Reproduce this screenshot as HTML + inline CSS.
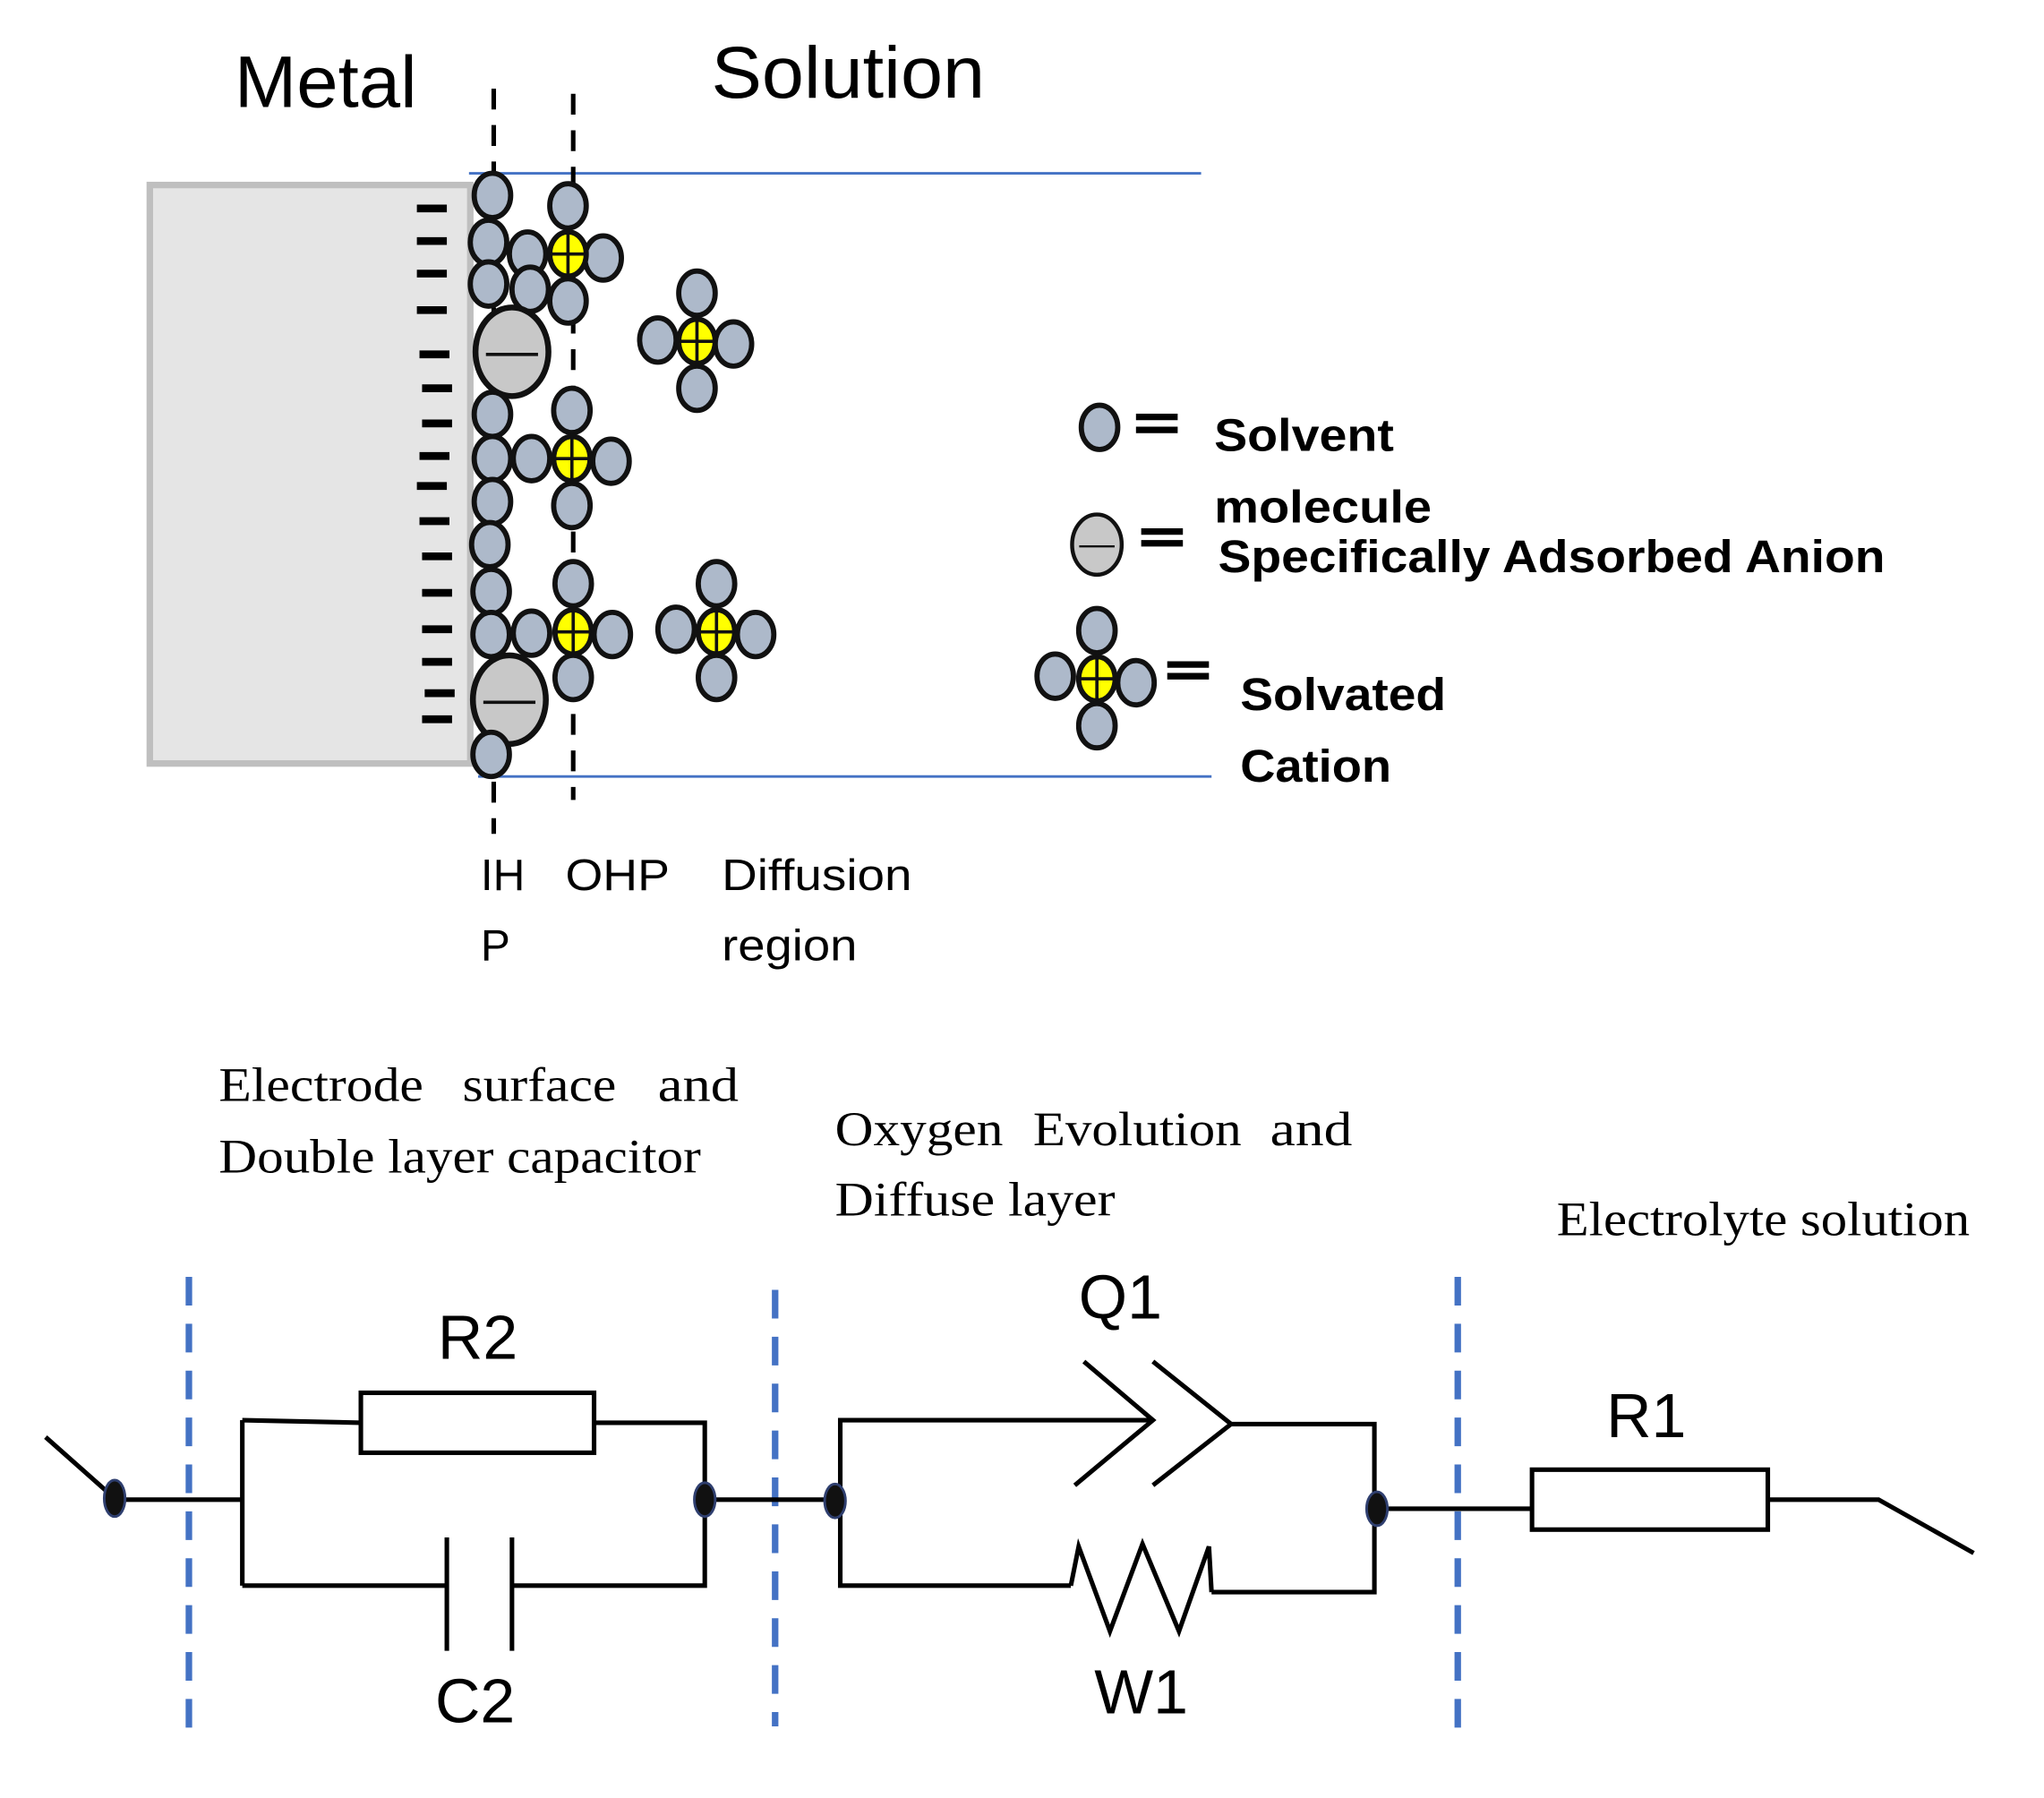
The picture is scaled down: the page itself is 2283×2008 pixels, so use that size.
<!DOCTYPE html>
<html><head><meta charset="utf-8"><style>html,body{margin:0;padding:0;background:#fff}svg{display:block}</style></head>
<body>
<svg width="2283" height="2008" viewBox="0 0 1569 1380" preserveAspectRatio="none" xmlns="http://www.w3.org/2000/svg" font-family="Liberation Sans, sans-serif">
<defs>
<g id="s"><ellipse rx="14" ry="17" fill="#adb9ca" stroke="#111" stroke-width="4"/></g>
<g id="c"><ellipse rx="14" ry="17" fill="#ffff00" stroke="#111" stroke-width="4"/><line x1="-14" y1="0" x2="14" y2="0" stroke="#111" stroke-width="2.5"/><line x1="0" y1="-17" x2="0" y2="17" stroke="#111" stroke-width="2.5"/></g>
<g id="a"><ellipse rx="28" ry="34" fill="#c8c8c8" stroke="#111" stroke-width="4.5"/><line x1="-20" y1="2" x2="20" y2="2" stroke="#111" stroke-width="2.5"/></g>
</defs>
<rect x="115" y="142" width="246" height="444" fill="#e5e5e5" stroke="#bfbfbf" stroke-width="5"/>
<g stroke="#000" stroke-width="6">
<line x1="320" y1="160" x2="343" y2="160"/><line x1="320" y1="185" x2="343" y2="185"/><line x1="320" y1="210" x2="343" y2="210"/><line x1="320" y1="238" x2="343" y2="238"/><line x1="322" y1="272" x2="345" y2="272"/><line x1="324" y1="298" x2="347" y2="298"/><line x1="324" y1="325" x2="347" y2="325"/><line x1="322" y1="350" x2="345" y2="350"/><line x1="320" y1="373" x2="343" y2="373"/><line x1="322" y1="400" x2="345" y2="400"/><line x1="324" y1="427" x2="347" y2="427"/><line x1="324" y1="455" x2="347" y2="455"/><line x1="324" y1="483" x2="347" y2="483"/><line x1="324" y1="508" x2="347" y2="508"/><line x1="326" y1="532" x2="349" y2="532"/><line x1="324" y1="552" x2="347" y2="552"/>
</g>
<line x1="360" y1="133" x2="922" y2="133" stroke="#4472c4" stroke-width="2"/>
<line x1="367" y1="596" x2="930" y2="596" stroke="#4472c4" stroke-width="2"/>
<line x1="379" y1="68" x2="379" y2="640" stroke="#000" stroke-width="3.5" stroke-dasharray="16,12"/>
<line x1="440" y1="72" x2="440" y2="614" stroke="#000" stroke-width="3.5" stroke-dasharray="16,12"/>
<use href="#s" x="378" y="150"/><use href="#s" x="375" y="186"/><use href="#s" x="375" y="218"/>
<use href="#s" x="405" y="195"/><use href="#s" x="407" y="222"/>
<use href="#s" x="436" y="158"/><use href="#s" x="463" y="198"/><use href="#s" x="436" y="231"/><use href="#c" x="436" y="195"/>
<use href="#a" x="393" y="270"/>
<use href="#s" x="535" y="225"/><use href="#s" x="535" y="298"/><use href="#s" x="505" y="261"/><use href="#s" x="563" y="264"/><use href="#c" x="535" y="262"/>
<use href="#s" x="378" y="318"/><use href="#s" x="378" y="352"/><use href="#s" x="378" y="385"/><use href="#s" x="376" y="418"/><use href="#s" x="377" y="454"/><use href="#s" x="377" y="487"/>
<use href="#s" x="408" y="352"/><use href="#s" x="439" y="315"/><use href="#s" x="469" y="354"/><use href="#s" x="439" y="388"/><use href="#c" x="439" y="352"/>
<use href="#s" x="408" y="486"/><use href="#s" x="440" y="448"/><use href="#s" x="470" y="487"/><use href="#s" x="440" y="520"/><use href="#c" x="440" y="485"/>
<use href="#s" x="519" y="483"/><use href="#s" x="550" y="448"/><use href="#s" x="580" y="487"/><use href="#s" x="550" y="520"/><use href="#c" x="550" y="485"/>
<use href="#a" x="391" y="537"/>
<use href="#s" x="377" y="579"/>
<text x="180" y="82" font-size="56" textLength="140" lengthAdjust="spacingAndGlyphs">Metal</text>
<text x="546" y="75" font-size="56" textLength="210" lengthAdjust="spacingAndGlyphs">Solution</text>
<g font-size="34"><text x="369" y="683">IH</text><text x="369" y="737">P</text><text x="434" y="683" textLength="80" lengthAdjust="spacingAndGlyphs">OHP</text><text x="554" y="683" textLength="146" lengthAdjust="spacingAndGlyphs">Diffusion</text><text x="554" y="737" textLength="104" lengthAdjust="spacingAndGlyphs">region</text></g>
<use href="#s" x="844" y="328"/>
<g stroke="#000" stroke-width="5"><line x1="872" y1="320" x2="904" y2="320"/><line x1="872" y1="330" x2="904" y2="330"/>
<line x1="876" y1="408" x2="908" y2="408"/><line x1="876" y1="417" x2="908" y2="417"/>
<line x1="896" y1="510" x2="928" y2="510"/><line x1="896" y1="519" x2="928" y2="519"/></g>
<g transform="translate(842,418) scale(0.68)"><use href="#a"/></g>
<use href="#s" x="842" y="484"/><use href="#s" x="842" y="557"/><use href="#s" x="810" y="519"/><use href="#s" x="872" y="524"/><use href="#c" x="842" y="521"/>
<g font-size="35" font-weight="bold">
<text x="932" y="346" textLength="138" lengthAdjust="spacingAndGlyphs">Solvent</text>
<text x="932" y="401" textLength="167" lengthAdjust="spacingAndGlyphs">molecule</text>
<text x="935" y="439" textLength="512" lengthAdjust="spacingAndGlyphs">Specifically Adsorbed Anion</text>
<text x="952" y="545" textLength="158" lengthAdjust="spacingAndGlyphs">Solvated</text>
<text x="952" y="600" textLength="116" lengthAdjust="spacingAndGlyphs">Cation</text>
</g>
<g font-family="Liberation Serif, serif" font-size="37" lengthAdjust="spacingAndGlyphs">
<text x="168" y="845" textLength="157" lengthAdjust="spacingAndGlyphs">Electrode</text><text x="355" y="845" textLength="118" lengthAdjust="spacingAndGlyphs">surface</text><text x="505" y="845" textLength="62" lengthAdjust="spacingAndGlyphs">and</text>
<text x="168" y="900" textLength="370" lengthAdjust="spacingAndGlyphs">Double layer capacitor</text>
<text x="641" y="879" textLength="129" lengthAdjust="spacingAndGlyphs">Oxygen</text><text x="793" y="879" textLength="160" lengthAdjust="spacingAndGlyphs">Evolution</text><text x="975" y="879" textLength="63" lengthAdjust="spacingAndGlyphs">and</text>
<text x="641" y="933" textLength="215" lengthAdjust="spacingAndGlyphs">Diffuse layer</text>
<text x="1195" y="948" textLength="317" lengthAdjust="spacingAndGlyphs">Electrolyte solution</text>
</g>
<g stroke="#4472c4" stroke-width="5" stroke-dasharray="22,14">
<line x1="145" y1="980" x2="145" y2="1340"/><line x1="595" y1="990" x2="595" y2="1325"/><line x1="1119" y1="980" x2="1119" y2="1340"/>
</g>
<g stroke="#000" stroke-width="3.5" fill="none">
<line x1="35" y1="1103" x2="88" y2="1150"/>
<line x1="88" y1="1151" x2="186" y2="1151"/>
<line x1="186" y1="1090" x2="186" y2="1217"/>
<line x1="186" y1="1090" x2="277" y2="1092"/>
<rect x="277" y="1069" width="179" height="46"/>
<polyline points="456,1092 541,1092 541,1217 393,1217"/>
<line x1="186" y1="1217" x2="343" y2="1217"/>
<line x1="343" y1="1180" x2="343" y2="1267"/><line x1="393" y1="1180" x2="393" y2="1267"/>
<line x1="541" y1="1151" x2="641" y2="1151"/>
<polyline points="885,1090 645,1090 645,1217 822,1217"/>
<polyline points="832,1045 885,1090 825,1140"/>
<polyline points="885,1045 945,1093 885,1140"/>
<polyline points="945,1093 1055,1093 1055,1222 930,1222"/>
<polyline points="822,1217 828,1187 852,1252 877,1185 905,1252 928,1187 930,1222"/>
<line x1="1057" y1="1158" x2="1175" y2="1158"/>
<rect x="1176" y="1128" width="181" height="46"/>
<polyline points="1357,1151 1442,1151 1515,1192"/>
</g>
<g fill="#111" stroke="#2f3f6f" stroke-width="2">
<ellipse cx="88" cy="1150" rx="8" ry="14"/><ellipse cx="541" cy="1151" rx="8" ry="13"/><ellipse cx="641" cy="1152" rx="8" ry="13"/><ellipse cx="1057" cy="1158" rx="8" ry="13"/>
</g>
<g font-size="48">
<text x="336" y="1043">R2</text><text x="334" y="1322">C2</text><text x="828" y="1012">Q1</text><text x="840" y="1315">W1</text><text x="1233" y="1103">R1</text>
</g>
</svg>
</body></html>
